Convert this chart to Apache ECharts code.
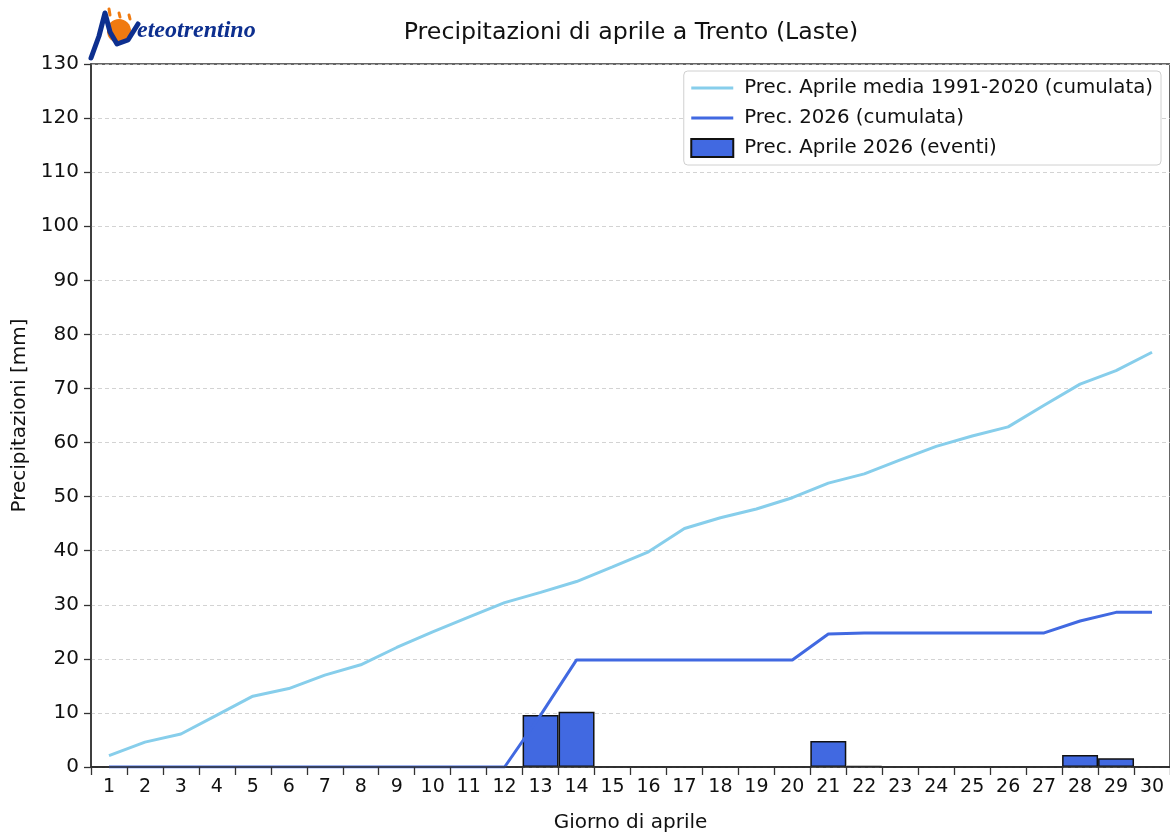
<!DOCTYPE html>
<html>
<head>
<meta charset="utf-8">
<title>Precipitazioni di aprile a Trento (Laste)</title>
<script src="https://cdn.jsdelivr.net/npm/echarts@6/dist/echarts.min.js"></script>
<style>
  html, body { margin: 0; padding: 0; background: #fff; }
  #chart { width: 1170px; height: 834px; }
</style>
</head>
<body>
<div id="chart"></div>
<script>
// giorni di aprile
var days = ['1','2','3','4','5','6','7','8','9','10','11','12','13','14','15',
            '16','17','18','19','20','21','22','23','24','25','26','27','28','29','30'];
// media 1991-2020 cumulata (mm)
var mediaCumulata = [2.1, 4.6, 6.1, 9.6, 13.1, 14.5, 17.0, 18.9, 22.1, 25.0,
                     27.7, 30.4, 32.3, 34.3, 37.0, 39.8, 44.1, 46.1, 47.7, 49.8,
                     52.5, 54.2, 56.8, 59.3, 61.2, 62.9, 66.9, 70.8, 73.3, 76.7];
// 2026 cumulata (mm)
var cumulata2026 = [0, 0, 0, 0, 0, 0, 0, 0, 0, 0,
                    0, 0, 9.6, 19.8, 19.8, 19.8, 19.8, 19.8, 19.8, 19.8,
                    24.6, 24.8, 24.8, 24.8, 24.8, 24.8, 24.8, 27.0, 28.6, 28.6];
// eventi giornalieri 2026 (mm)
var eventi2026 = [0, 0, 0, 0, 0, 0, 0, 0, 0, 0,
                  0, 0, 9.6, 10.2, 0, 0, 0, 0, 0, 0,
                  4.8, 0.2, 0, 0, 0, 0, 0, 2.2, 1.6, 0];
var yTicks = { min: 0, max: 130, interval: 10 };

var font = 'DejaVu Sans';
var logoBlue = '#0d2f8f';
var logoOrange = '#f07a10';
var myChart = echarts.init(document.getElementById('chart'));

var option = {
    animation: false,
    backgroundColor: '#fff',
    textStyle: { fontFamily: font },
    title: {
        text: 'Precipitazioni di aprile a Trento (Laste)',
        left: 626,
        top: 16,
        textAlign: 'center',
        textStyle: { fontFamily: font, fontSize: 23.7, fontWeight: 'normal', color: '#111' }
    },
    legend: {
        orient: 'vertical',
        right: 9,
        top: 71,
        padding: [7, 8, 7, 6],
        itemGap: 10,
        itemWidth: 42,
        itemHeight: 18,
        backgroundColor: '#fff',
        borderColor: '#d0d0d0',
        borderWidth: 1,
        borderRadius: 4,
        lineStyle: { width: 3 },
        textStyle: { fontFamily: font, fontSize: 19.8, color: '#111', padding: [0, 0, 0, 6] },
        data: [
            { name: 'Prec. Aprile media 1991-2020 (cumulata)', itemStyle: { opacity: 0 } },
            { name: 'Prec. 2026 (cumulata)', itemStyle: { opacity: 0 } },
            { name: 'Prec. Aprile 2026 (eventi)', icon: 'rect' }
        ]
    },
    grid: {
        left: 91,
        right: 0,
        top: 64,
        bottom: 67,
        outerBoundsMode: 'none',
        containLabel: false,
        show: true,
        borderColor: '#333',
        borderWidth: 1.5
    },
    xAxis: {
        type: 'category',
        data: days,
        boundaryGap: true,
        z: 5,
        name: 'Giorno di aprile',
        nameLocation: 'middle',
        nameGap: 46,
        nameTextStyle: { fontFamily: font, fontSize: 20, color: '#111' },
        axisLine: { lineStyle: { color: '#333', width: 1.5 } },
        axisTick: { show: true, alignWithLabel: false, length: 8, lineStyle: { color: '#333', width: 1.3 } },
        axisLabel: { fontFamily: font, fontSize: 19, color: '#111', margin: 11, interval: 0 },
        splitLine: { show: false }
    },
    yAxis: {
        type: 'value',
        min: yTicks.min,
        max: yTicks.max,
        interval: yTicks.interval,
        name: 'Precipitazioni [mm]',
        nameLocation: 'middle',
        nameGap: 61,
        nameRotate: 90,
        nameTextStyle: { fontFamily: font, fontSize: 20, color: '#111' },
        axisLine: { show: true, lineStyle: { color: '#333', width: 1.5 } },
        axisTick: { show: true, length: 7, lineStyle: { color: '#333', width: 1.3 } },
        axisLabel: { fontFamily: font, fontSize: 20, color: '#111', margin: 12 },
        splitLine: { show: true, lineStyle: { color: '#c8c8c8', type: [4, 3], width: 0.8 } }
    },
    graphic: [
        // logo Meteotrentino (approssimato)
        { type: 'circle', shape: { cx: 119, cy: 31, r: 12 }, style: { fill: logoOrange } },
        { type: 'line', shape: { x1: 109, y1: 9, x2: 110, y2: 15 }, style: { stroke: logoOrange, lineWidth: 3, lineCap: 'round' } },
        { type: 'line', shape: { x1: 119, y1: 13, x2: 120, y2: 17 }, style: { stroke: logoOrange, lineWidth: 3, lineCap: 'round' } },
        { type: 'line', shape: { x1: 129, y1: 15, x2: 130, y2: 19 }, style: { stroke: logoOrange, lineWidth: 3, lineCap: 'round' } },
        {
            type: 'polyline',
            shape: { points: [[91, 58], [99, 36], [105, 13], [110, 32], [117, 44], [128, 40], [138, 24]] },
            style: { stroke: logoBlue, lineWidth: 5, fill: null, lineJoin: 'round', lineCap: 'round' }
        },
        {
            type: 'text',
            style: {
                x: 137, y: 19,
                text: 'eteotrentino',
                font: 'italic bold 24px "Liberation Serif"',
                fill: logoBlue
            }
        }
    ],
    series: [
        {
            name: 'Prec. Aprile media 1991-2020 (cumulata)',
            type: 'line',
            data: mediaCumulata,
            symbol: 'none',
            z: 3,
            lineStyle: { color: '#87ceeb', width: 3 },
            itemStyle: { color: '#87ceeb' }
        },
        {
            name: 'Prec. 2026 (cumulata)',
            type: 'line',
            data: cumulata2026,
            symbol: 'none',
            z: 4,
            lineStyle: { color: '#4169e1', width: 3 },
            itemStyle: { color: '#4169e1' }
        },
        {
            name: 'Prec. Aprile 2026 (eventi)',
            type: 'bar',
            data: eventi2026,
            barWidth: '100%',
            barCategoryGap: 0,
            z: 2,
            itemStyle: { color: '#4169e1', borderColor: '#111', borderWidth: 1.5 }
        }
    ]
};

myChart.setOption(option);
</script>
</body>
</html>
